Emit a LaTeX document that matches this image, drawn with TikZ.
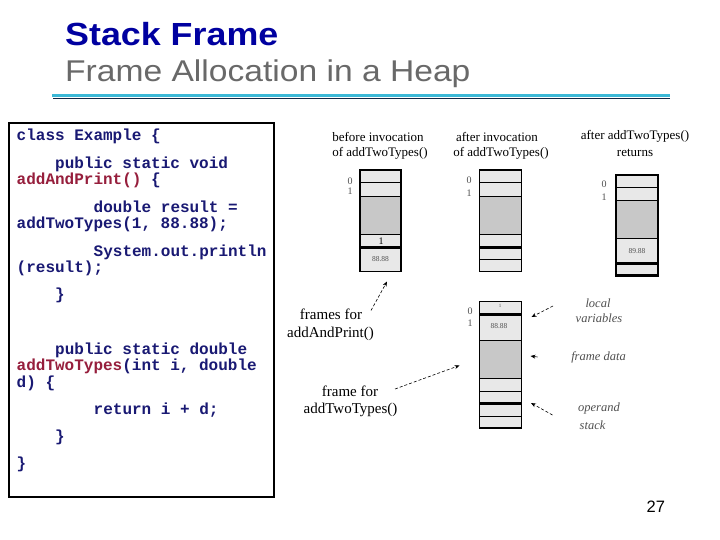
\documentclass[tikz,border=0pt]{standalone}
\usepackage{fontspec}
\setmainfont{Liberation Serif}
\setsansfont{Liberation Sans}
\setmonofont{Liberation Mono}
\newfontfamily\titlefont[FakeStretch=1.12]{Liberation Sans}
\usetikzlibrary{arrows.meta}
\definecolor{titleblue}{RGB}{0,0,160}
\definecolor{subgray}{RGB}{105,105,105}
\definecolor{rulecyan}{RGB}{60,185,215}
\definecolor{ruledark}{RGB}{20,40,70}
\definecolor{codeblue}{RGB}{25,25,115}
\definecolor{codered}{RGB}{150,30,60}
\definecolor{cellgray}{RGB}{232,232,232}
\definecolor{midgray}{RGB}{200,200,200}
\definecolor{notegray}{RGB}{80,80,80}
\tikzset{
  codeline/.style={anchor=base west, inner sep=0pt, text=codeblue,
    font=\ttfamily\bfseries\fontsize{16}{17}\selectfont},
  header/.style={inner sep=0pt, font=\fontsize{13}{15}\selectfont},
  caption/.style={inner sep=0pt, font=\fontsize{15}{17}\selectfont},
  note/.style={inner sep=0pt, text=notegray, font=\itshape\fontsize{12.5}{14}\selectfont},
  idx/.style={inner sep=0pt, text=notegray, font=\fontsize{10}{11}\selectfont},
  cellval/.style={inner sep=0pt, text=notegray, font=\fontsize{7.5}{8}\selectfont},
  cellsep/.style={line width=1pt},
  cellthick/.style={line width=2.4pt},
  stackborder/.style={line width=1.8pt},
  pointer/.style={densely dashed, line width=0.6pt, -{Stealth[length=5pt,width=4pt]}}
}
\begin{document}
\begin{tikzpicture}[x=1pt,y=-1pt]
\useasboundingbox (0,0) rectangle (720,540);
\fill[white] (0,0) rectangle (720,540);

% title
\node[anchor=base west, inner sep=0pt, text=titleblue] (title) at (65,46)
  {\titlefont\bfseries\fontsize{32}{36}\selectfont Stack Frame};
\node[anchor=base west, inner sep=0pt, text=subgray] (subtitle) at (65,81.5)
  {\titlefont\fontsize{30}{34}\selectfont Frame Allocation in a Heap};
\draw[ruledark, line width=1.2pt] (53,98.3) -- (670,98.3);
\draw[rulecyan, line width=3pt] (52,96) -- (670,96);

% code box
\draw[line width=2pt] (9,123.5) rectangle (273.5,496.5);
\node[codeline] (c1) at (16.5,141) {class Example \{};
\node[codeline] (c2) at (55,168.3) {public static void};
\node[codeline] (c3) at (16.5,185) {\textcolor{codered}{addAndPrint()} \{};
\node[codeline] (c4) at (93.5,212.3) {double result =};
\node[codeline] (c5) at (16.5,229) {addTwoTypes(1, 88.88);};
\node[codeline] (c6) at (93.5,256) {System.out.println};
\node[codeline] (c7) at (16.5,272.7) {(result);};
\node[codeline] (c8) at (55,299.5) {\}};
\node[codeline] (c9) at (55,354) {public static double};
\node[codeline] (c10) at (16.5,370.7) {\textcolor{codered}{addTwoTypes}(int i, double};
\node[codeline] (c11) at (16.5,387.3) {d) \{};
\node[codeline] (c12) at (93.5,414.3) {return i + d;};
\node[codeline] (c13) at (55,441.7) {\}};
\node[codeline] (c14) at (16.5,468.3) {\}};

% headers
\node[header] (h1a) at (378,136.7) {before invocation};
\node[header] (h1b) at (380,153.3) {of addTwoTypes()};
\node[header] (h2a) at (497,136.7) {after invocation};
\node[header] (h2b) at (501,153.3) {of addTwoTypes()};
\node[header] (h3a) at (635,136.7) {after addTwoTypes()};
\node[header] (h3b) at (635,153.3) {returns};

% stack 1: before invocation
\fill[cellgray] (360,170) rectangle (401,271.5);
\fill[midgray] (360,196.5) rectangle (401,234.5);
\draw[cellsep] (360,183) -- (401,183);
\draw[cellsep] (360,196.5) -- (401,196.5);
\draw[cellsep] (360,234.5) -- (401,234.5);
\draw[cellthick] (360,247.5) -- (401,247.5);
\draw[stackborder] (360,170) rectangle (401,271.5);
\node[idx] (s1i0) at (350,181) {0};
\node[idx] (s1i1) at (350,191.5) {1};
\node[idx, text=black] (s1v1) at (381,241) {1};
\node[cellval] (s1v2) at (380.5,259.5) {88.88};

% stack 2: after invocation
\fill[cellgray] (479.5,170) rectangle (521.5,271.5);
\fill[midgray] (479.5,196.5) rectangle (521.5,234.5);
\draw[cellsep] (479.5,183) -- (521.5,183);
\draw[cellsep] (479.5,196.5) -- (521.5,196.5);
\draw[cellsep] (479.5,234.5) -- (521.5,234.5);
\draw[cellthick] (479.5,247.5) -- (521.5,247.5);
\draw[cellsep] (479.5,259.5) -- (521.5,259.5);
\draw[stackborder] (479.5,170) rectangle (521.5,271.5);
\node[idx] (s2i0) at (469,180) {0};
\node[idx] (s2i1) at (469,193) {1};

% stack 3: after addTwoTypes() returns
\fill[cellgray] (616,175) rectangle (658,275.5);
\fill[midgray] (616,200.5) rectangle (658,238.5);
\draw[cellsep] (616,188) -- (658,188);
\draw[cellsep] (616,200.5) -- (658,200.5);
\draw[cellsep] (616,238.5) -- (658,238.5);
\draw[cellthick] (616,263.5) -- (658,263.5);
\draw[line width=2.4pt] (616,175) rectangle (658,275.5);
\node[idx] (s3i0) at (604,184) {0};
\node[idx] (s3i1) at (604,197) {1};
\node[cellval] (s3v) at (637,251) {89.88};

% stack 4: detailed frame
\fill[cellgray] (479.5,301.5) rectangle (521.5,428);
\fill[midgray] (479.5,340) rectangle (521.5,378.5);
\draw[cellthick] (479.5,314.5) -- (521.5,314.5);
\draw[cellsep] (479.5,340) -- (521.5,340);
\draw[cellsep] (479.5,378.5) -- (521.5,378.5);
\draw[line width=1.6pt] (479.5,391.5) -- (521.5,391.5);
\draw[cellthick] (479.5,403.5) -- (521.5,403.5);
\draw[cellsep] (479.5,416) -- (521.5,416);
\draw[stackborder] (479.5,301.5) rectangle (521.5,428);
\node[idx] (s4i0) at (470,311.5) {0};
\node[idx] (s4i1) at (470,323.5) {1};
\node[cellval, font=\fontsize{5}{6}\selectfont] (s4v1) at (500,306) {1};
\node[cellval] (s4v2) at (499,326.5) {88.88};

% captions on the left
\node[caption] (cap1a) at (331,314) {frames for};
\node[caption] (cap1b) at (330.5,333.5) {addAndPrint()};
\node[caption] (cap2a) at (350,391) {frame for};
\node[caption] (cap2b) at (350.5,410) {addTwoTypes()};

% notes on the right
\node[note] (n1a) at (598,303) {local};
\node[note] (n1b) at (599,318.5) {variables};
\node[note] (n2) at (598.5,357.5) {frame data};
\node[note] (n3a) at (599,408.5) {operand};
\node[note] (n3b) at (592.5,425) {stack};

% pointers
\coordinate (p1s) at (371,310.5);
\coordinate (p1e) at (387,281.5);
\coordinate (p2s) at (395,389);
\coordinate (p2e) at (459.5,365.5);
\coordinate (p3s) at (553,306);
\coordinate (p3e) at (531.5,317);
\coordinate (p4s) at (537.5,357);
\coordinate (p4e) at (530.5,356);
\coordinate (p5s) at (552.5,415);
\coordinate (p5e) at (531,403);
\draw[pointer] (p1s) -- (p1e);
\draw[pointer] (p2s) -- (p2e);
\draw[pointer] (p3s) -- (p3e);
\draw[pointer, solid] (p4s) -- (p4e);
\draw[pointer] (p5s) -- (p5e);

% page number
\node[anchor=base west, inner sep=0pt] (pagenum) at (646.5,512.3)
  {\sffamily\fontsize{16.5}{18}\selectfont 27};
\end{tikzpicture}
\end{document}
